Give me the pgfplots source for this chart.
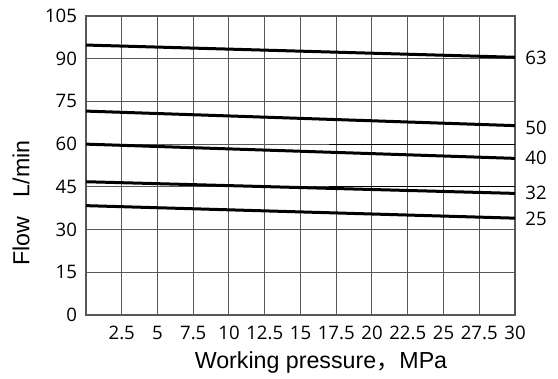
\documentclass[border=0pt]{standalone}
\usepackage{pgfplots}
\pgfplotsset{compat=1.18}
\usepackage{fontspec}
\setmainfont{Liberation Sans}
\newfontfamily\tickfont{Open Sans}
\newfontfamily\cjk{Noto Sans CJK SC}
\definecolor{gridc}{RGB}{92,86,83}
\begin{document}
\begin{tikzpicture}
\begin{axis}[
  name=ax,
  at={(0,0)}, anchor=south west,
  width=214.5pt, height=149.5pt, scale only axis,
  xmin=0, xmax=30, ymin=0, ymax=105,
  xtick={2.5,5,7.5,10,12.5,15,17.5,20,22.5,25,27.5,30},
  xticklabels={2.5,5,7.5,10,12.5,15,17.5,20,22.5,25,27.5,30},
  ytick={0,15,30,45,60,75,90,105},
  yticklabels={0,15,30,45,60,75,90,105},
  major tick length=0pt,
  grid=major,
  major grid style={draw=gridc, line width=0.5pt},
  axis line style={draw=gridc, line width=0.6pt},
  tick label style={font=\tickfont\fontsize{9.3}{10}\selectfont},
  xticklabel style={yshift=-2pt},
  yticklabel style={xshift=-1pt},
  /pgf/number format/assume math mode=true,
  clip=false,
]
\addplot[black, line width=1.5pt] coordinates {(0,94.8) (30,90.5)};
\addplot[black, line width=1.5pt] coordinates {(0,71.6) (30,66.5)};
\addplot[black, line width=1.5pt] coordinates {(0,60.0) (30,55.0)};
\addplot[black, line width=1.5pt] coordinates {(0,46.8) (30,42.7)};
\addplot[black, line width=1.5pt] coordinates {(0,38.4) (30,34.0)};
\draw[black, line width=0.4pt] (axis cs:17,60) -- (axis cs:30,60);
\draw[black, line width=0.4pt] (axis cs:17,45) -- (axis cs:30,45);
\node[anchor=west, font=\tickfont\fontsize{9.3}{10}\selectfont, inner sep=0pt] at (axis cs:30,90.2) {\hspace{5pt}63};
\node[anchor=west, font=\tickfont\fontsize{9.3}{10}\selectfont, inner sep=0pt] at (axis cs:30,65.7) {\hspace{5pt}50};
\node[anchor=west, font=\tickfont\fontsize{9.3}{10}\selectfont, inner sep=0pt] at (axis cs:30,55.1) {\hspace{5pt}40};
\node[anchor=west, font=\tickfont\fontsize{9.3}{10}\selectfont, inner sep=0pt] at (axis cs:30,42.8) {\hspace{5pt}32};
\node[anchor=west, font=\tickfont\fontsize{9.3}{10}\selectfont, inner sep=0pt] at (axis cs:30,33.7) {\hspace{5pt}25};
\end{axis}
% labels, positions in px*0.5pt relative to axis south west (86,315)
\node[font=\fontsize{11.6}{13}\selectfont, inner sep=0pt] at (117.5pt,-24pt) {Working pressure{\cjk ，}MPa};
\node[font=\fontsize{11.6}{13}\selectfont, inner sep=0pt, rotate=90] at (-32.5pt,56pt) {Flow\ \ \ L/min};
\pgfresetboundingbox
\path[use as bounding box] (-43pt,-32pt) rectangle (236pt,157.5pt);
\end{tikzpicture}
\end{document}
